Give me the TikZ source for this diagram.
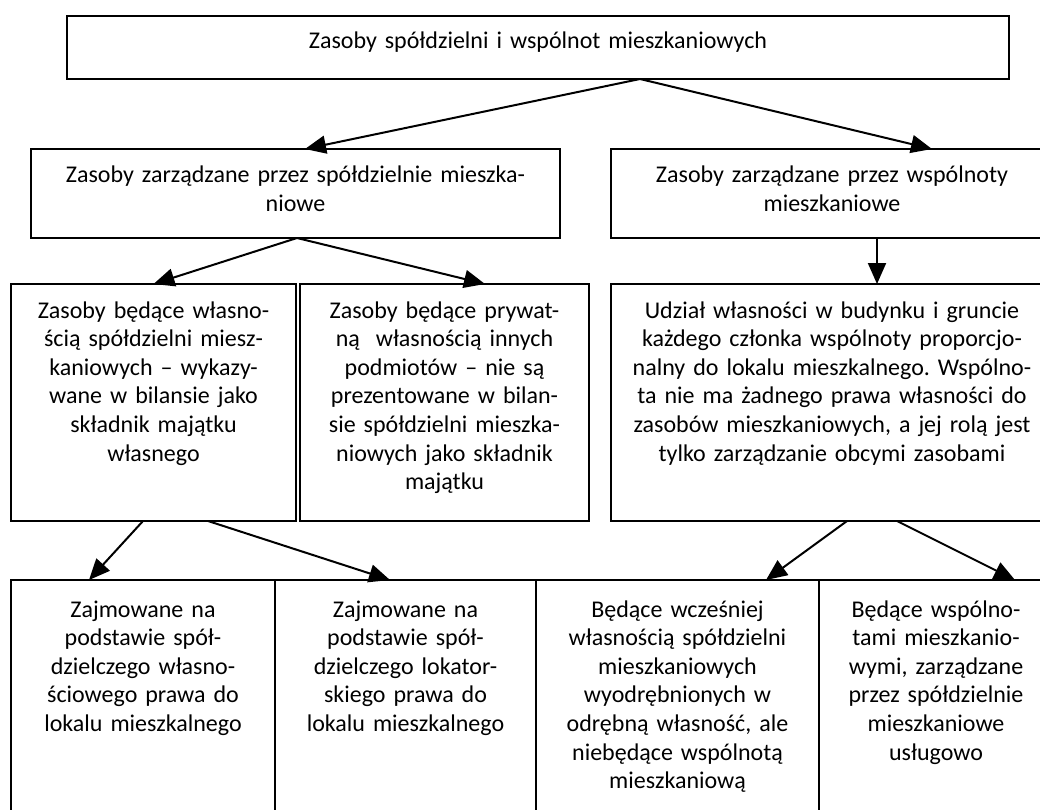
\documentclass[tikz,border=0pt]{standalone}
\usepackage{fontspec}
\setmainfont[WordSpace=0.8]{Carlito}
\frenchspacing
\usepackage{tikz}
\usetikzlibrary{arrows.meta,positioning}

\begin{document}
\begin{tikzpicture}[x=1pt, y=-1pt,
  box/.style={draw, line width=2pt, anchor=north west, inner sep=0pt, outer sep=0pt,
    align=center, text width=#1, font=\fontsize{24}{28.6}\selectfont},
  arr/.style={line width=2pt, -{Triangle[length=21pt,width=18pt]}}]
  \useasboundingbox (0,0) rectangle (1040,810);
  \clip (0,0) rectangle (1040,810);

  \node[box=942pt, text height=33pt, text depth=30pt] (zasoby) at (67,16)
    {Zasoby spółdzielni i wspólnot mieszkaniowych};

  \node[box=529pt, text height=34pt, text depth=55pt] (spoldz) at (31,149)
    {Zasoby zarządzane przez spółdzielnie mieszka-\\niowe};
  \node[box=442pt, text height=34pt, text depth=55pt] (wspol) at (611,149)
    {Zasoby zarządzane przez wspólnoty\\mieszkaniowe};

  \node[box=285pt, text height=34pt, text depth=203pt] (wlasne) at (11,284)
    {Zasoby będące własno-\\ścią spółdzielni miesz-\\kaniowych – wykazy-\\wane w bilansie jako\\składnik majątku\\własnego};
  \node[box=289pt, text height=34pt, text depth=203pt] (obce) at (300,284)
    {Zasoby będące prywat-\\ną~ własnością innych\\podmiotów – nie są\\prezentowane w bilan-\\sie spółdzielni mieszka-\\niowych jako składnik\\majątku};
  \node[box=442pt, text height=34pt, text depth=203pt] (udzial) at (611,284)
    {Udział własności w budynku i gruncie\\każdego członka wspólnoty proporcjo-\\nalny do lokalu mieszkalnego. Wspólno-\\ta nie ma żadnego prawa własności do\\zasobów mieszkaniowych, a jej rolą jest\\tylko zarządzanie obcymi zasobami};

  \node[box=264pt, text height=37pt, text depth=280pt] (wlasnosc) at (11,580)
    {Zajmowane na\\podstawie spół-\\dzielczego własno-\\ściowego prawa do\\lokalu mieszkalnego};
  \node[box=261pt, text height=37pt, text depth=280pt] (lokator) at (275,580)
    {Zajmowane na\\podstawie spół-\\dzielczego lokator-\\skiego prawa do\\lokalu mieszkalnego};
  \node[box=283pt, text height=37pt, text depth=280pt] (wyodr) at (536,580)
    {Będące wcześniej\\własnością spółdzielni\\mieszkaniowych\\wyodrębnionych w\\odrębną własność, ale\\niebędące wspólnotą\\mieszkaniową};
  \node[box=234pt, text height=37pt, text depth=280pt] (uslug) at (819,580)
    {Będące wspólno-\\tami mieszkanio-\\wymi, zarządzane\\przez spółdzielnie\\mieszkaniowe\\usługowo};

  \draw[arr] ([xshift=102pt]zasoby.south) -- ([xshift=9.5pt]spoldz.north);
  \draw[arr] ([xshift=102pt]zasoby.south) -- ([xshift=100pt]wspol.north);
  \draw[arr] ([xshift=1.5pt]spoldz.south) -- (wlasne.north);
  \draw[arr] ([xshift=1.5pt]spoldz.south) -- ([xshift=40.5pt]obce.north);
  \draw[arr] ([xshift=45pt]wspol.south) -- ([xshift=45pt]udzial.north);
  \draw[arr] ([xshift=-10.5pt]wlasne.south) -- ([xshift=-54pt]wlasnosc.north);
  \draw[arr] ([xshift=54.5pt]wlasne.south) -- ([xshift=-15.5pt]lokator.north);
  \draw[arr] ([xshift=15pt]udzial.south) -- ([xshift=88.5pt]wyodr.north);
  \draw[arr] ([xshift=65pt]udzial.south) -- ([xshift=79pt]uslug.north);
\end{tikzpicture}
\end{document}
